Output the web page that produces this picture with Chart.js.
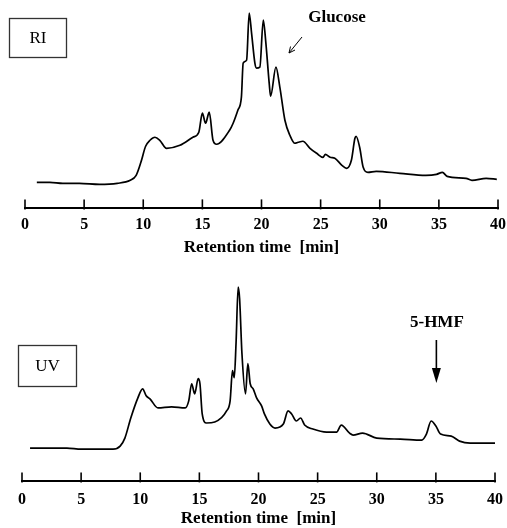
<!DOCTYPE html>
<html>
<head>
<meta charset="utf-8">
<script src="https://cdn.jsdelivr.net/npm/chart.js@4/dist/chart.umd.min.js"></script>
<style>
  html, body { margin: 0; padding: 0; background: #fff; overflow: hidden; }
  .panel { position: absolute; left: 0; }
</style>
</head>
<body>
<div class="panel" style="top:0"><canvas id="riChart" width="507" height="260"></canvas></div>
<div class="panel" style="top:260px"><canvas id="uvChart" width="507" height="268"></canvas></div>
<script>
// --- Data (time in min, detector signal in arbitrary units) ---
const riTime = [1.0, 2.1, 3.2, 4.6, 6.3, 7.8, 8.9, 9.4, 9.8, 10.2, 10.57, 10.99, 11.4, 11.97, 13.1, 14.2, 14.7,
  15.0, 15.27, 15.58, 15.9, 16.2, 17.3, 17.6, 18.0, 18.3, 18.45, 18.74, 18.96, 19.16, 19.44, 19.58, 19.86,
  20.15, 20.37, 20.65, 20.77, 21.22, 21.55, 21.98, 22.4, 22.82, 23.1, 23.5, 24.1, 24.66, 25.2, 25.4, 25.8,
  26.2, 26.8, 27.2, 27.6, 27.9, 28.0, 28.3, 28.6, 29.0, 29.7, 31.7, 33.9, 34.8, 35.3, 35.7, 37.3, 37.8, 39.0, 39.9];
const riSignal = [2, 2, 1, 1, 0, 1, 4, 9, 22, 38, 44, 47, 44, 36, 39, 47, 52,
  71, 61, 72, 44, 40, 54, 61, 74, 87, 121, 124, 171, 151, 121, 116, 117,
  164, 141, 101, 88, 117, 97, 64, 49, 41, 42, 43, 36, 31, 27, 30, 27,
  26, 19, 16, 24, 46, 48, 37, 17, 12, 13, 11, 9, 10, 12, 8, 6, 4, 6, 5];

const uvTime = [0.68, 3.8, 5.0, 7.7, 8.3, 8.7, 9.2, 9.8, 10.2, 10.5, 10.82, 11.5, 12.65, 13.8, 14.1, 14.35, 14.6,
  14.9, 15.05, 15.24, 15.6, 16.3, 17.3, 17.6, 17.8, 17.95, 18.1, 18.28, 18.4, 18.6, 18.9, 19.1, 19.3, 19.55,
  19.84, 20.26, 20.5, 20.96, 21.4, 22.1, 22.5, 22.8, 23.2, 23.56, 23.9, 24.6, 25.76, 26.6, 27.0, 27.7, 28.0,
  28.8, 30.0, 32.0, 33.8, 34.2, 34.6, 35.0, 35.4, 36.3, 37.0, 37.9, 40.0];
const uvSignal = [2, 2, 1, 1, 4, 12, 32, 52, 61, 54, 51, 42, 43, 42, 49, 66, 56,
  71, 66, 36, 27, 28, 39, 49, 79, 72, 106, 162, 151, 96, 56, 86, 66, 61,
  52, 44, 36, 26, 22, 26, 39, 36, 29, 32, 25, 21, 18, 18, 25, 17, 15,
  17, 12, 11, 10, 16, 29, 24, 16, 14, 9, 7, 7];

const timeTicks = [0, 5, 10, 15, 20, 25, 30, 35, 40];
const axisTitle = 'Retention time  [min]';

// --- Helpers ---
const toPoints = (xs, ys) => xs.map((x, i) => ({ x: x, y: ys[i] }));

// short tick marks standing up from the axis line
const upTicks = {
    id: 'upTicks',
    afterDraw(chart) {
        const scale = chart.scales.x;
        const ctx = chart.ctx;
        ctx.save();
        ctx.strokeStyle = '#000';
        ctx.lineWidth = 1.6;
        scale.ticks.forEach(t => {
            const px = scale.getPixelForValue(t.value);
            ctx.beginPath();
            ctx.moveTo(px, scale.top + 1);
            ctx.lineTo(px, scale.top - 9);
            ctx.stroke();
        });
        ctx.restore();
    }
};

function drawBox(ctx, x, y, w, h, label) {
    ctx.save();
    ctx.strokeStyle = '#333';
    ctx.lineWidth = 1.3;
    ctx.strokeRect(x, y, w, h);
    ctx.fillStyle = '#000';
    ctx.font = '17px "Liberation Serif", serif';
    ctx.textAlign = 'center';
    ctx.textBaseline = 'middle';
    ctx.fillText(label, x + w / 2, y + h / 2 + 1);
    ctx.restore();
}

function drawLabel(ctx, text, x, y) {
    ctx.save();
    ctx.fillStyle = '#000';
    ctx.font = 'bold 17px "Liberation Serif", serif';
    ctx.textAlign = 'center';
    ctx.textBaseline = 'middle';
    ctx.fillText(text, x, y);
    ctx.restore();
}

function makeOptions(yMin, yMax, pad) {
    return {
        responsive: false,
        animation: false,
        layout: { padding: pad },
        plugins: { legend: { display: false }, tooltip: { enabled: false } },
        elements: { point: { radius: 0 } },
        scales: {
            x: {
                type: 'linear',
                min: 0,
                max: 40,
                afterBuildTicks: (axis) => { axis.ticks = timeTicks.map(v => ({ value: v })); },
                // keep the axis span set by layout padding only
                afterFit: (axis) => { axis.paddingLeft = 0; axis.paddingRight = 0; },
                grid: { display: false, drawTicks: false },
                border: { display: true, color: '#000', width: 2 },
                ticks: {
                    color: '#000',
                    padding: pad.tickPad,
                    maxRotation: 0,
                    font: { family: '"Liberation Serif", serif', size: 16, weight: 'bold' }
                },
                title: {
                    display: true,
                    text: axisTitle,
                    color: '#000',
                    padding: { top: pad.titlePad, bottom: pad.titleBottom },
                    font: { family: '"Liberation Serif", serif', size: 17, weight: 'bold' }
                }
            },
            y: { display: false, min: yMin, max: yMax }
        }
    };
}

// --- RI chromatogram ---
const riPad = { left: 25, right: 9, top: 4, bottom: 2, tickPad: 7, titlePad: -4, titleBottom: 0 };
new Chart(document.getElementById('riChart'), {
    type: 'line',
    data: {
        datasets: [{
            data: toPoints(riTime, riSignal),
            borderColor: '#000',
            borderWidth: 1.7,
            fill: false,
            cubicInterpolationMode: 'monotone'
        }]
    },
    options: makeOptions(-24, 180, riPad),
    plugins: [upTicks, {
        id: 'riNotes',
        afterDraw(chart) {
            const ctx = chart.ctx;
            drawBox(ctx, 9.5, 18.5, 57, 39, 'RI');
            drawLabel(ctx, 'Glucose', 337, 18);
            // thin arrow pointing at the glucose peak
            ctx.save();
            ctx.strokeStyle = '#000';
            ctx.lineWidth = 1;
            ctx.beginPath();
            ctx.moveTo(302, 37);
            ctx.lineTo(289, 53);
            ctx.moveTo(289, 53);
            ctx.lineTo(290.5, 46.5);
            ctx.moveTo(289, 53);
            ctx.lineTo(295, 50);
            ctx.stroke();
            ctx.restore();
        }
    }]
});

// --- UV chromatogram ---
const uvPad = { left: 22, right: 12, top: 10, bottom: 0, tickPad: 9, titlePad: -10, titleBottom: -1 };
new Chart(document.getElementById('uvChart'), {
    type: 'line',
    data: {
        datasets: [{
            data: toPoints(uvTime, uvSignal),
            borderColor: '#000',
            borderWidth: 1.7,
            fill: false,
            cubicInterpolationMode: 'monotone'
        }]
    },
    options: makeOptions(-31, 179, uvPad),
    plugins: [upTicks, {
        id: 'uvNotes',
        afterDraw(chart) {
            const ctx = chart.ctx;
            const x35 = chart.scales.x.getPixelForValue(35);
            drawBox(ctx, 18.5, 85.5, 58, 41, 'UV');
            drawLabel(ctx, '5-HMF', x35 + 1, 63);
            // filled arrow down to the 5-HMF peak
            ctx.save();
            ctx.strokeStyle = '#000';
            ctx.fillStyle = '#000';
            ctx.lineWidth = 1.6;
            ctx.beginPath();
            ctx.moveTo(x35 + 0.5, 80);
            ctx.lineTo(x35 + 0.5, 112);
            ctx.stroke();
            ctx.beginPath();
            ctx.moveTo(x35 - 4, 108);
            ctx.lineTo(x35 + 5, 108);
            ctx.lineTo(x35 + 0.5, 123);
            ctx.closePath();
            ctx.fill();
            ctx.restore();
        }
    }]
});
</script>
</body>
</html>
